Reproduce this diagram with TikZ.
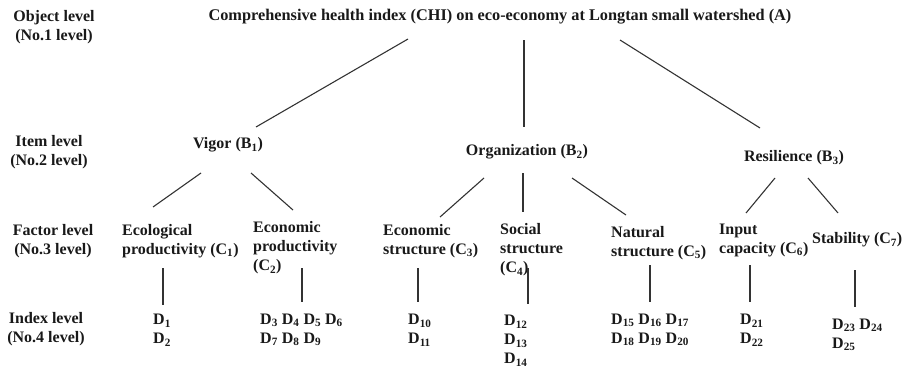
\documentclass[tikz,border=0pt]{standalone}
\usepackage{fontspec}
\setmainfont{Liberation Serif}
\usetikzlibrary{calc}
\newcommand{\sub}[1]{\textsubscript{#1}}
\begin{document}
\begin{tikzpicture}[x=1pt,y=-1pt,
  txt/.style={inner sep=0pt,font=\fontsize{16}{19}\selectfont\bfseries,text=black!90},
  lbl/.style={txt,anchor=west,align=left},
  ctr/.style={txt,anchor=center,align=center},
  link/.style={line width=1.1pt,draw=black!80}]
\useasboundingbox (0,0) rectangle (904,372);

% level captions
\node[ctr] (L1) at (54,27.5) {Object level\\(No.1 level)};
\node[ctr] (L2) at (49,152) {Item level\\(No.2 level)};
\node[ctr] (L3) at (53,241) {Factor level\\(No.3 level)};
\node[ctr] (L4) at (46,329.5) {Index level\\(No.4 level)};

% goal
\node[ctr,font=\fontsize{16.3}{19}\selectfont\bfseries] (A) at (500,17) {Comprehensive health index (CHI) on eco-economy at Longtan small watershed (A)};

% items
\node[ctr] (B1) at (228,145) {Vigor (B\sub{1})};
\node[ctr] (B2) at (527,152) {Organization (B\sub{2})};
\node[ctr] (B3) at (794,158) {Resilience (B\sub{3})};

% factors
\node[lbl] (C1) at (122,241) {Ecological\\productivity (C\sub{1})};
\node[lbl] (C2) at (253,248) {Economic\\productivity\\(C\sub{2})};
\node[lbl] (C3) at (383,241) {Economic\\structure (C\sub{3})};
\node[lbl] (C4) at (500,250) {Social\\structure\\(C\sub{4})};
\node[lbl] (C5) at (611,243) {Natural\\structure (C\sub{5})};
\node[lbl] (C6) at (719,240) {Input\\capacity (C\sub{6})};
\node[lbl] (C7) at (812,240) {Stability (C\sub{7})};

% indices
\node[lbl] (D1) at (153,330) {D\sub{1}\\D\sub{2}};
\node[lbl] (D3) at (260,330) {D\sub{3} D\sub{4} D\sub{5} D\sub{6}\\D\sub{7} D\sub{8} D\sub{9}};
\node[lbl] (D10) at (408,330) {D\sub{10}\\D\sub{11}};
\node[lbl] (D12) at (504,341) {D\sub{12}\\D\sub{13}\\D\sub{14}};
\node[lbl] (D15) at (611,330) {D\sub{15} D\sub{16} D\sub{17}\\D\sub{18} D\sub{19} D\sub{20}};
\node[lbl] (D21) at (740,330) {D\sub{21}\\D\sub{22}};
\node[lbl] (D23) at (832,335) {D\sub{23} D\sub{24}\\D\sub{25}};

% goal to items
\draw[link] ($(A)+(-92,22)$) -- ($(B1)+(28,-18)$);
\draw[link] ($(A)+(24,23)$) -- ($(B2)+(-3,-25)$);
\draw[link] ($(A)+(120,23)$) -- ($(B3)+(-34,-30)$);

% items to factors
\draw[link] ($(B1)+(-27,28)$) -- ($(C1.west)+(31,-34)$);
\draw[link] ($(B1)+(23,28)$) -- ($(C2.west)+(40,-38)$);
\draw[link] ($(B2)+(-43,26)$) -- ($(C3.west)+(57,-24)$);
\draw[link] ($(B2)+(-4,21)$) -- ($(C4.west)+(23,-38)$);
\draw[link] ($(B2)+(45,26)$) -- ($(C5.west)+(15,-28)$);
\draw[link] ($(B3)+(-19,20)$) -- ($(C6.west)+(27,-27)$);
\draw[link] ($(B3)+(14,20)$) -- ($(C7.west)+(26,-27)$);

% factors to indices
\draw[link] ($(C1.west)+(41,27)$) -- ($(D1.west)+(10,-25)$);
\draw[link] ($(C2.west)+(49,20)$) -- ($(D3.west)+(42,-28)$);
\draw[link] ($(C3.west)+(35,27)$) -- ($(D10.west)+(10,-28)$);
\draw[link] ($(C4.west)+(28,18)$) -- ($(D12.west)+(24,-37)$);
\draw[link] ($(C5.west)+(39,22)$) -- ($(D15.west)+(39,-28)$);
\draw[link] ($(C6.west)+(31,25)$) -- ($(D21.west)+(10,-28)$);
\draw[link] ($(C7.west)+(43,30)$) -- ($(D23.west)+(23,-28)$);
\end{tikzpicture}
\end{document}
